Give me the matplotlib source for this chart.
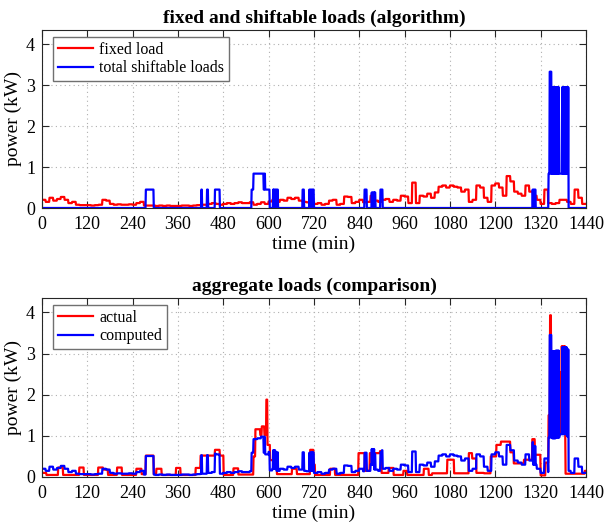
import numpy as np
import matplotlib
matplotlib.use("Agg")
import matplotlib.pyplot as plt

plt.rcParams['font.family'] = ['Liberation Serif', 'DejaVu Serif']

# ---------------- data ----------------
# fixed load, 10-minute resolution (kW), t = 0,10,...,1430
fixed_load = [0.20, 0.15, 0.25, 0.18, 0.22, 0.27, 0.20, 0.12, 0.15, 0.08,
              0.07, 0.07, 0.07, 0.06, 0.07, 0.08, 0.20, 0.18, 0.10, 0.08,
              0.09, 0.08, 0.08, 0.09, 0.08, 0.12, 0.15, 0.06, 0.06, 0.06,
              0.05, 0.06, 0.05, 0.06, 0.05, 0.05, 0.05, 0.06, 0.06, 0.05,
              0.06, 0.07, 0.08, 0.08, 0.10, 0.12, 0.10, 0.08, 0.10, 0.12,
              0.10, 0.12, 0.14, 0.12, 0.12, 0.14, 0.08, 0.10, 0.14, 0.10,
              0.16, 0.20, 0.15, 0.20, 0.18, 0.25, 0.22, 0.25, 0.18, 0.15,
              0.14, 0.15, 0.10, 0.12, 0.08, 0.10, 0.18, 0.20, 0.08, 0.10,
              0.28, 0.27, 0.12, 0.15, 0.20, 0.14, 0.15, 0.30, 0.18, 0.15,
              0.20, 0.22, 0.15, 0.20, 0.18, 0.30, 0.28, 0.12, 0.62, 0.12,
              0.30, 0.28, 0.35, 0.25, 0.38, 0.52, 0.55, 0.50, 0.55, 0.52,
              0.50, 0.40, 0.45, 0.15, 0.20, 0.55, 0.50, 0.25, 0.15, 0.55,
              0.60, 0.50, 0.30, 0.78, 0.65, 0.40, 0.35, 0.30, 0.55, 0.40,
              0.30, 0.20, 0.10, 0.45, 0.12, 0.10, 0.12, 0.20, 0.20, 0.15,
              0.10, 0.45, 0.25, 0.10]

# total shiftable loads: step change points (minute) and level after them (kW)
shift_t = [0, 275, 296, 422, 424, 437, 440, 458, 471,
           555, 560, 587, 589, 591, 603,
           612, 613, 614, 615, 617, 618, 620, 621, 623, 625,
           690, 694, 708, 709, 711, 712, 714, 715, 717, 720,
           854, 860, 873, 874, 876, 877, 879, 880, 881, 883, 896, 902,
           1299, 1300, 1302, 1303, 1305, 1307,
           1341, 1344, 1346, 1347, 1349, 1350, 1351, 1352, 1353, 1354,
           1355, 1356, 1357, 1358, 1359, 1360, 1361, 1362, 1363, 1364,
           1365, 1366, 1367, 1368, 1369,
           1377, 1378, 1379, 1380, 1381, 1382, 1383, 1384, 1385, 1386,
           1387, 1388, 1389, 1390, 1391, 1392, 1393, 1394]
shift_v = [0.0, 0.45, 0.0, 0.45, 0.0, 0.45, 0.0, 0.45, 0.0,
           0.45, 0.84, 0.45, 0.84, 0.45, 0.0,
           0.45, 0.0, 0.45, 0.0, 0.45, 0.0, 0.45, 0.0, 0.45, 0.0,
           0.45, 0.0, 0.45, 0.0, 0.45, 0.0, 0.45, 0.0, 0.45, 0.0,
           0.45, 0.0, 0.38, 0.0, 0.38, 0.0, 0.38, 0.0, 0.38, 0.0, 0.45, 0.0,
           0.45, 0.0, 0.45, 0.0, 0.45, 0.0,
           0.84, 3.33, 0.84, 3.33, 0.84, 2.95, 0.84, 2.95, 0.84, 2.95,
           0.84, 2.95, 0.84, 2.95, 0.84, 2.95, 0.84, 2.95, 0.84, 2.95,
           0.84, 2.95, 0.84, 2.95, 0.84,
           2.95, 0.84, 2.95, 0.84, 2.95, 0.84, 2.95, 0.84, 2.95, 0.84,
           2.95, 0.84, 2.95, 0.84, 2.95, 0.84, 2.95, 0.0]

# actual aggregate load: step change points (minute) and level after them (kW)
actual_t = [0, 12, 43, 56, 99, 111, 149, 162, 175, 199, 212, 250, 264,
            275, 296, 303, 317, 355, 367, 407, 420, 458, 471, 481, 507, 520,
            560, 565, 578, 582, 589, 594, 597, 604, 613, 622,
            662, 675, 710, 719, 723, 763, 776, 838, 855, 868, 895, 899,
            918, 931, 957, 967, 1011, 1024, 1033, 1073, 1091, 1130, 1139,
            1150, 1170, 1188, 1203, 1215, 1240, 1249, 1276, 1298, 1305,
            1320, 1333, 1341, 1345, 1348, 1349, 1350, 1351, 1352, 1353,
            1354, 1355, 1356, 1357, 1358, 1359, 1360, 1361, 1362, 1363,
            1364, 1365, 1367, 1373, 1376, 1377, 1378, 1379, 1380, 1381,
            1382, 1383, 1384, 1385, 1386, 1437]
actual_v = [0.10, 0.05, 0.23, 0.05, 0.23, 0.05, 0.23, 0.18, 0.05, 0.23, 0.05, 0.20, 0.07,
            0.52, 0.07, 0.20, 0.05, 0.22, 0.05, 0.22, 0.52, 0.66, 0.52, 0.05, 0.21, 0.06,
            0.50, 1.16, 1.02, 1.23, 1.02, 1.88, 0.78, 0.41, 0.58, 0.07,
            0.20, 0.07, 0.66, 0.30, 0.05, 0.20, 0.05, 0.58, 0.15, 0.58, 0.63, 0.10,
            0.22, 0.05, 0.15, 0.05, 0.20, 0.05, 0.09, 0.42, 0.09, 0.58, 0.45,
            0.10, 0.09, 0.50, 0.78, 0.86, 0.60, 0.33, 0.42, 0.92, 0.54,
            0.04, 0.35, 1.50, 3.93, 1.10, 2.90, 1.15, 2.95, 1.10, 2.90,
            1.20, 2.95, 1.10, 2.90, 1.15, 2.90, 1.10, 2.95, 1.20, 2.90,
            1.10, 2.60, 2.55, 1.05, 3.18, 1.10, 3.15, 1.05, 3.18, 1.10,
            3.10, 1.05, 3.18, 1.10, 0.08, 0.15]

x_ticks = [0, 120, 240, 360, 480, 600, 720, 840, 960, 1080, 1200, 1320, 1440]
y_ticks = [0, 1, 2, 3, 4]


def expand(bt, bv, n=1440):
    out = np.zeros(n + 1)
    for i, (t, v) in enumerate(zip(bt, bv)):
        end = bt[i + 1] if i + 1 < len(bt) else n + 1
        out[t:end] = v
    return out


minutes = np.arange(1441)
fixed = np.append(np.repeat(fixed_load, 10), fixed_load[-1])
shift = expand(shift_t, shift_v)
actual = expand(actual_t, actual_v)
computed = fixed + shift

# ---------------- figure ----------------
fig = plt.figure(figsize=(6.04, 5.29), dpi=100)
ax1 = fig.add_axes([0.0695, 0.6068, 0.9007, 0.3365])
ax2 = fig.add_axes([0.0695, 0.0983, 0.9007, 0.3384])

dark = '#262626'


def style(ax, title):
    ax.set_xlim(0, 1440)
    ax.set_ylim(0, 4.35)
    ax.set_xticks(x_ticks)
    ax.set_yticks(y_ticks)
    ax.tick_params(direction='in', top=True, right=True, length=5, width=0.8,
                   labelsize=13, colors=dark, labelcolor='black')
    ax.tick_params(axis='x', pad=6)
    ax.tick_params(axis='y', pad=5)
    ax.grid(True, linestyle=(0, (1, 3)), color='#b0b0b0', linewidth=0.8)
    ax.set_axisbelow(True)
    for s in ax.spines.values():
        s.set_color(dark)
        s.set_linewidth(0.8)
    ax.set_xlabel('time (min)', fontsize=14, labelpad=2)
    ax.set_ylabel('power (kW)', fontsize=14, labelpad=3)
    ax.set_title(title, fontsize=14, fontweight='bold', pad=5)


ax1.plot(minutes, fixed, color='red', lw=1.6, label='fixed load')
ax1.plot(minutes, shift, color='blue', lw=1.6, label='total shiftable loads')
style(ax1, 'fixed and shiftable loads (algorithm)')

ax2.plot(minutes, actual, color='red', lw=1.6, label='actual')
ax2.plot(minutes, computed, color='blue', lw=1.6, label='computed')
style(ax2, 'aggregate loads (comparison)')

for ax in (ax1, ax2):
    leg = ax.legend(loc='upper left', fontsize=11.5, fancybox=False,
                    edgecolor='#707070', framealpha=1,
                    bbox_to_anchor=(0.02, 0.96), borderaxespad=0.0,
                    handlelength=2.2, handletextpad=0.4, borderpad=0.3,
                    labelspacing=0.15)
    leg.get_frame().set_linewidth(1.0)

fig.savefig('out.png', dpi=100)
